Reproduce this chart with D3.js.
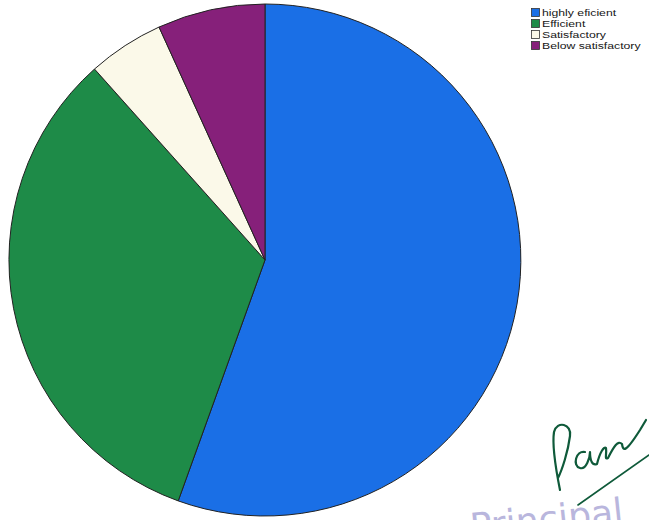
<!DOCTYPE html>
<html>
<head>
<meta charset="utf-8">
<script src="https://cdn.jsdelivr.net/npm/d3@7"></script>
<style>
  html, body { margin: 0; padding: 0; background: #ffffff; }
  svg { display: block; }
</style>
</head>
<body>
<svg id="chart" width="649" height="520"></svg>
<script>
// Rating categories and their shares (percent of responses)
const categories = ["highly eficient", "Efficient", "Satisfactory", "Below satisfactory"];
const shares = [55.5, 32.9, 4.8, 6.8];
const colors = ["#1a6fe6", "#1e8b48", "#fbf9e9", "#86207a"];

const svg = d3.select("#chart");

// Pie is drawn on a unit circle and stretched into a slight ellipse
const cx = 265, cy = 260, rx = 256, ry = 256;

const data = categories.map((c, i) => ({ category: c, value: shares[i], color: colors[i] }));

const pie = d3.pie().sort(null).value(d => d.value);
const arc = d3.arc().innerRadius(0).outerRadius(1);

const pieG = svg.append("g")
  .attr("transform", `translate(${cx},${cy}) scale(${rx},${ry})`);

pieG.selectAll("path.slice")
  .data(pie(data))
  .join("path")
  .attr("class", "slice")
  .attr("d", arc)
  .attr("fill", d => d.data.color)
  .attr("stroke", "#222")
  .attr("stroke-width", 1)
  .attr("vector-effect", "non-scaling-stroke");

// Legend in the upper right corner
const legend = svg.append("g").attr("transform", "translate(531,8)");
const rowH = 11;
const items = legend.selectAll("g.item")
  .data(data)
  .join("g")
  .attr("class", "item")
  .attr("transform", (d, i) => `translate(0,${i * rowH})`);

items.append("rect")
  .attr("x", 0.5).attr("y", 0.5)
  .attr("width", 8).attr("height", 8)
  .attr("fill", d => d.color)
  .attr("stroke", "#333")
  .attr("stroke-width", 0.8);

items.append("text")
  .attr("transform", "translate(11,8) scale(1.36,1)")
  .attr("font-family", "Liberation Sans, Arial, sans-serif")
  .attr("font-size", 9)
  .attr("fill", "#151515")
  .text(d => d.category);

// Signature and stamp in the lower right corner
const sig = svg.append("g")
  .attr("fill", "none")
  .attr("stroke", "#0f5a3a")
  .attr("stroke-width", 2.2)
  .attr("stroke-linecap", "round")
  .attr("stroke-linejoin", "round");

sig.append("path")
  .attr("d", "M560,490 C556,470 552,445 554,432 C557,420 572,424 570,436 C568,452 562,470 558,478");
sig.append("path")
  .attr("d", "M585,452 C576,450 572,466 580,468 C586,470 590,458 590,452 C590,460 592,466 597,464 C600,452 604,446 606,448 C607,455 604,460 608,458 C614,446 618,440 622,444 C623,452 626,452 640,430 L646,420");
sig.append("path")
  .attr("stroke-width", 1.6)
  .attr("d", "M578,505 L649,455");

svg.append("text")
  .attr("x", 470)
  .attr("y", 530)
  .attr("transform", "rotate(-6,560,520)")
  .attr("font-family", "DejaVu Sans, sans-serif")
  .attr("font-size", 36)
  .attr("fill", "#b9b6dd")
  .text("Principal");
</script>
</body>
</html>
